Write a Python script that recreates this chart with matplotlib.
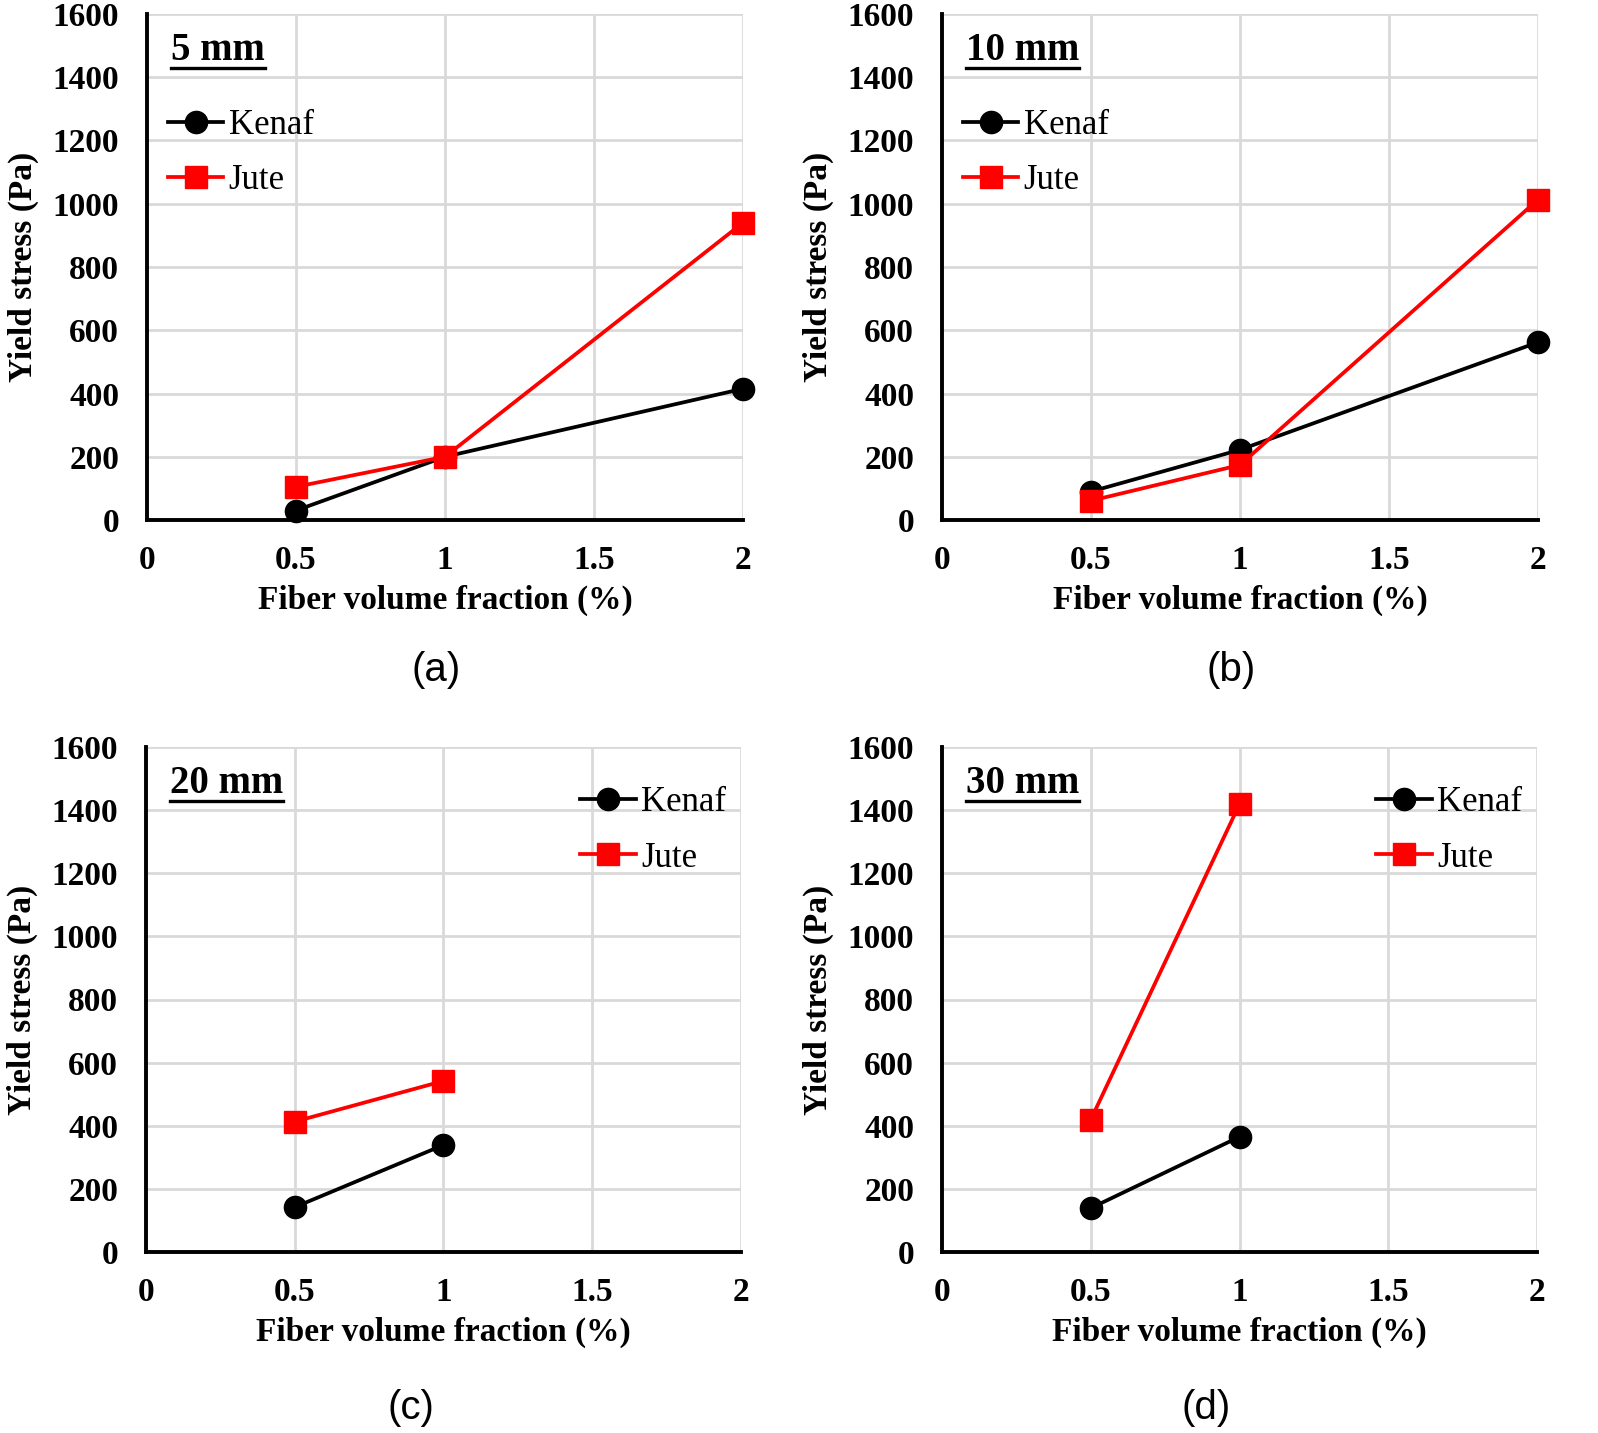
import matplotlib
matplotlib.use("Agg")
import matplotlib.pyplot as plt
from matplotlib.lines import Line2D

# ---- data ----
panels = ["(a)", "(b)", "(c)", "(d)"]
titles = ["5 mm", "10 mm", "20 mm", "30 mm"]
x_ab = [0.5, 1, 2]
x_cd = [0.5, 1]
kenaf_a = [30, 200, 415]
jute_a = [105, 200, 940]
kenaf_b = [90, 222, 562]
jute_b = [61, 174, 1013]
kenaf_c = [142, 339]
jute_c = [413, 542]
kenaf_d = [139, 365]
jute_d = [419, 1419]
xticks = [0, 0.5, 1, 1.5, 2]
xticklabels = ["0", "0.5", "1", "1.5", "2"]
yticks = [0, 200, 400, 600, 800, 1000, 1200, 1400, 1600]
xlabel = "Fiber volume fraction (%)"
ylabel = "Yield stress (Pa)"

serif = "Liberation Serif"
W, H = 1598, 1433
fig = plt.figure(figsize=(W / 100, H / 100), dpi=100)

# axes boxes in pixels: left, right, top, bottom
boxes = [(147, 743, 14, 520), (942, 1538, 14, 520),
         (146, 741, 747, 1252), (942, 1537, 747, 1252)]
xs = [x_ab, x_ab, x_cd, x_cd]
kenafs = [kenaf_a, kenaf_b, kenaf_c, kenaf_d]
jutes = [jute_a, jute_b, jute_c, jute_d]
legend_pos = [(0.035, 0.812), (0.035, 0.812), (0.73, 0.922), (0.73, 0.922)]
label_pos = [(436, 670), (1231, 670), (411, 1408), (1206, 1408)]

axes = []
for i in range(4):
    l, r, t, b = boxes[i]
    ax = fig.add_axes([l / W, 1 - b / H, (r - l) / W, (b - t) / H])
    axes.append(ax)
    ax.set_xlim(0, 2)
    ax.set_ylim(0, 1600)
    ax.set_xticks(xticks)
    ax.set_xticklabels(xticklabels)
    ax.set_yticks(yticks)
    ax.grid(True, color="#d9d9d9", linewidth=2.0)
    ax.set_axisbelow(True)
    for s in ["top", "right"]:
        ax.spines[s].set_visible(False)
    for s in ["left", "bottom"]:
        ax.spines[s].set_linewidth(2.8)
        ax.spines[s].set_color("black")
        ax.spines[s].set_zorder(3)
    ax.tick_params(length=0)
    ax.tick_params(axis="x", pad=18)
    ax.tick_params(axis="y", pad=20)
    for lab in ax.get_xticklabels() + ax.get_yticklabels():
        lab.set_fontfamily(serif)
        lab.set_fontweight("bold")
        lab.set_fontsize(24)
    ax.set_xlabel(xlabel, fontfamily=serif, fontweight="bold", fontsize=24, labelpad=6)
    ax.set_ylabel(ylabel, fontfamily=serif, fontweight="bold", fontsize=24, labelpad=10)

    ax.plot(xs[i], kenafs[i], color="black", lw=2.7, marker="o", ms=16, label="Kenaf",
            clip_on=False, zorder=4)
    ax.plot(xs[i], jutes[i], color="#ff0000", lw=2.7, marker="s", ms=16, label="Jute",
            clip_on=False, zorder=5)

    leg = ax.legend(loc="upper left", bbox_to_anchor=legend_pos[i], frameon=False,
                    prop={"family": serif, "size": 25}, handlelength=1.6,
                    handletextpad=0.15, labelspacing=0.64, borderpad=0, borderaxespad=0)

    ax.text(0.04, 0.928, titles[i], transform=ax.transAxes, fontfamily=serif,
            fontweight="bold", fontsize=28, ha="left", va="center")

    fig.text(label_pos[i][0] / W, 1 - label_pos[i][1] / H, panels[i],
             fontfamily="Liberation Sans", fontsize=29, ha="center", va="center")

# underline the titles
fig.canvas.draw()
renderer = fig.canvas.get_renderer()
for ax in axes:
    for t in ax.texts:
        bb = t.get_window_extent(renderer)
        y = bb.y0 + 1
        fig.add_artist(Line2D([bb.x0 / W, bb.x1 / W], [y / H, y / H],
                              color="black", lw=2.4, transform=fig.transFigure))

fig.savefig("out.png", dpi=100)
